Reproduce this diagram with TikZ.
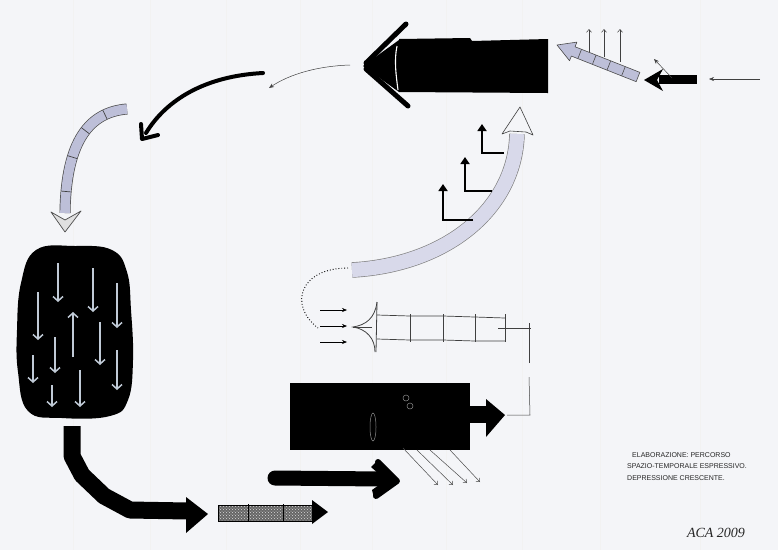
\documentclass[tikz,border=0pt]{standalone}
\usepackage{fontspec}
\setmainfont{Liberation Sans}
\newfontfamily\sigfont{Liberation Serif}
\usetikzlibrary{arrows.meta,calc,decorations.markings,patterns}
\definecolor{paper}{HTML}{F4F5F8}
\definecolor{lav}{HTML}{D8D9EA}
\definecolor{segfill}{HTML}{BDBFD8}
\definecolor{chalk}{HTML}{C0CAD6}
\begin{document}
\begin{tikzpicture}[x=1pt,y=-1pt,
  fine/.style={draw=black!75,line width=0.5pt},
  finearrow/.style={fine,-{Stealth[length=5pt,width=4pt]}},
  barbarrow/.style={fine,-{Straight Barb[length=3pt,width=5pt]}},
  chalkarrow/.style={draw=chalk,line width=1.6pt,-{Straight Barb[length=4.5pt,width=10pt,line width=1.5pt]}},
  steparrow/.style={draw=black,line width=2.4pt,-{Triangle[length=7pt,width=9pt]}},
  handtext/.style={font=\fontsize{7.0}{9}\selectfont,anchor=west,inner sep=0pt,text=black!85}]
\fill[paper] (0,0) rectangle (778,550);
\useasboundingbox (0,0) rectangle (778,550);
% faint sheet lines
\foreach \xx in {73,150,226,300,372,446,522,600,700}
  \draw[black!5,line width=0.6pt] (\xx,0) -- (\xx,550);

% ---------- top right ----------
\coordinate (inA) at (760,79);
\coordinate (inB) at (709,79);
\draw[finearrow] (inA) -- (inB);
\fill (697,75) rectangle (659,84);
\fill (663,69) -- (644,80) -- (663,91) -- (657,80) -- cycle;
\coordinate (bkA) at (672,78);
\coordinate (bkB) at (654,59);
\draw[finearrow] (bkA) -- (bkB);
% tilted segmented arrow
\coordinate (st) at (638,77);
\coordinate (sh) at (557,45);
\coordinate (sb) at ($(st)!0.80!(sh)$);
\fill[segfill,draw=black!70,line width=0.6pt,line join=round]
  ($(st)!5pt!90:(sh)$) -- ($(sb)!5pt!-90:(st)$) -- ($(sb)!10pt!-90:(st)$) -- (sh)
  -- ($(sb)!10pt!90:(st)$) -- ($(sb)!5pt!90:(st)$) -- ($(st)!5pt!-90:(sh)$) -- cycle;
\foreach \f in {0.18,0.36,0.54,0.72}
  \draw[black!70,line width=0.6pt] ($($(st)!\f!(sh)$)!5pt!90:(sh)$) -- ($($(st)!\f!(sh)$)!5pt!-90:(sh)$);
\coordinate (v1a) at (589,52); \coordinate (v1b) at (589,29);
\coordinate (v2a) at (604,57); \coordinate (v2b) at (604,29);
\coordinate (v3a) at (620,62); \coordinate (v3b) at (620,29);
\draw[barbarrow] (v1a) -- (v1b);
\draw[barbarrow] (v2a) -- (v2b);
\draw[barbarrow] (v3a) -- (v3b);

% ---------- big black arrow ----------
\fill (399,39) -- (470,38) -- (472,41) -- (548,39) -- (548,93) -- (399,92) -- cycle;
\fill (363,66) -- (399,40) -- (399,92) -- cycle;
\draw[line width=5pt,line cap=round] (366,63) -- (406,24);
\draw[line width=5pt,line cap=round] (366,69) -- (408,106);
\draw[white,line width=1.1pt] (397,46) .. controls (394,60) and (396,75) .. (398,90);

% ---------- top curves ----------
\coordinate (c1a) at (350,65);
\coordinate (c1b) at (269,88);
\draw[finearrow] (c1a) .. controls (318,66) and (290,74) .. (c1b);
\coordinate (c2a) at (263,73);
\coordinate (c2b) at (146,133);
\draw[line width=4pt,line cap=round] (c2a) .. controls (205,76) and (166,100) .. (c2b);
\draw[line width=4pt,line cap=round,line join=round] (141,124) -- (142,139) -- (158,135);

% ---------- curved segmented arrow ----------
\coordinate (sgA) at (127,109);
\coordinate (sgB) at (65,213);
\draw[black!70,line width=11pt] (sgA) .. controls (90,112) and (66,140) .. (sgB);
\draw[segfill,line width=9.6pt,
  postaction={decorate,decoration={markings,
   mark=at position 0.17 with {\draw[black!75,line width=0.7pt] (0,-5pt) -- (0,5pt);},
   mark=at position 0.36 with {\draw[black!75,line width=0.7pt] (0,-5pt) -- (0,5pt);},
   mark=at position 0.58 with {\draw[black!75,line width=0.7pt] (0,-5pt) -- (0,5pt);},
   mark=at position 0.84 with {\draw[black!75,line width=0.7pt] (0,-5pt) -- (0,5pt);}}}]
  (sgA) .. controls (90,112) and (66,140) .. (sgB);
\fill[black!12,draw=black!70,line width=0.7pt,line join=round]
  (51,212) -- (65,232) -- (81,211) -- (65,220) -- cycle;

% ---------- black blob ----------
\fill[black] plot[smooth cycle,tension=0.7] coordinates {(36,250) (75,246) (112,250) (127,272) (131,310) (133,360) (128,400) (110,416) (62,418) (28,411) (18,372) (17,330) (21,283)};
\foreach \ax/\ay/\bx/\by in {58/263/58/302, 93/268/93/312, 117/283/117/328, 38/292/38/340, 73/357/73/312, 55/337/55/373, 100/322/100/365, 33/355/33/383, 117/350/117/390, 80/370/80/407, 52/385/52/407}
  \draw[chalkarrow] (\ax,\ay) -- (\bx,\by);

% ---------- bottom left bent arrow ----------
\coordinate (bnA) at (72,426);
\coordinate (bnB) at (188,511);
\draw[line width=17pt,line join=round] (bnA) -- (72,456) -- (82,475) -- (104,496) -- (130,510) -- (bnB);
\fill (186,497) -- (208,514) -- (186,533) -- cycle;

% ---------- textured arrow ----------
\fill[black!60] (218,505) rectangle (313,521);
\fill[pattern=crosshatch dots,pattern color=white!85!black] (218,505) rectangle (313,521);
\draw[black,line width=0.7pt] (218,505) rectangle (313,521);
\draw[black,line width=0.7pt] (248,504) -- (248,522) (283,504) -- (283,522);
\fill (312,500) -- (328,512) -- (312,524) -- cycle;

% ---------- brush arrow ----------
\draw[line width=15pt,line cap=round] (275,478) -- (384,479);
\fill (376,462) -- (399,481) -- (374,498) -- (372,490) -- (386,480) -- (371,467) -- cycle;
\draw[line width=6pt,line cap=round,line join=round] (378,462) -- (397,481) -- (376,496);

% ---------- black rectangle ----------
\fill (290,383) rectangle (470,450);
\draw[black!45,line width=0.5pt] (373,427) ellipse (3 and 14);
\draw[black!45,line width=0.5pt] (406,398) circle (3) (410,406) circle (3);
\fill (468,406) rectangle (488,423);
\fill (486,399) -- (505,415) -- (486,437) -- cycle;
\coordinate (rl1) at (507,415);
\coordinate (rl2) at (530,415);
\draw[fine] (rl1) -- (rl2) -- (529,377);
\draw[fine] (529,363) -- (529,323);
\foreach \ax/\ay/\bx/\by in {403/448/438/485, 417/450/453/485, 430/450/467/483, 450/450/480/482}
  \draw[draw=black!70,line width=0.5pt,-{Straight Barb[length=3pt,width=5pt]}] (\ax,\ay) -- (\bx,\by);

% ---------- outlined segmented arrow ----------
\draw[fine,line width=0.7pt] (377,315) -- (410,316) -- (443,316) -- (475,317) -- (505,318);
\draw[fine,line width=0.7pt] (377,339) -- (410,340) -- (443,340) -- (475,341) -- (505,341);
\foreach \dx in {410,443,475,505}
  \draw[fine,line width=0.7pt] (\dx,314) -- (\dx,342);
\draw[fine] (498,328) -- (531,328);
\draw[fine,line width=0.8pt] (377,302) .. controls (375,318) and (366,325) .. (353,327)
  .. controls (366,329) and (375,338) .. (375,352);
\draw[fine,line width=0.8pt] (377,302) -- (376,352);
\draw[fine] (353,327) -- (372,327);
\foreach \yy in {310,326,342}
  \draw[draw=black,line width=0.6pt,-{Stealth[length=5pt,width=4pt]}] (320,\yy) -- (347,\yy);
\draw[dotted,line width=0.9pt] (348,268) .. controls (300,268) and (288,305) .. (318,328);

% ---------- lavender curved arrow ----------
\coordinate (lvA) at (352,270);
\coordinate (lvB) at (517,134);
\draw[black!50,line width=15.5pt] (lvA) .. controls (445,265) and (515,210) .. (lvB);
\draw[lav,line width=14.2pt] (lvA) .. controls (445,265) and (515,210) .. (lvB);
\fill[paper,draw=black!75,line width=0.6pt,line join=round]
  (520,107) -- (533,135) -- (526,132) -- (510,131) -- (502,134) -- cycle;
\draw[steparrow] (473,220) -- (443,220) -- (443,184);
\draw[steparrow] (492,191) -- (465,191) -- (465,157);
\draw[steparrow] (504,153) -- (482,153) -- (482,124);

% ---------- texts ----------
\node[handtext] (t1) at (632,455) {ELABORAZIONE: PERCORSO};
\node[handtext] (t2) at (627,466) {SPAZIO-TEMPORALE ESPRESSIVO.};
\node[handtext] (t3) at (627,478) {DEPRESSIONE CRESCENTE.};
\node[font=\sigfont\itshape\fontsize{14}{16}\selectfont,inner sep=0pt,text=black!85] (sig) at (716,533) {ACA 2009};
\end{tikzpicture}
\end{document}
